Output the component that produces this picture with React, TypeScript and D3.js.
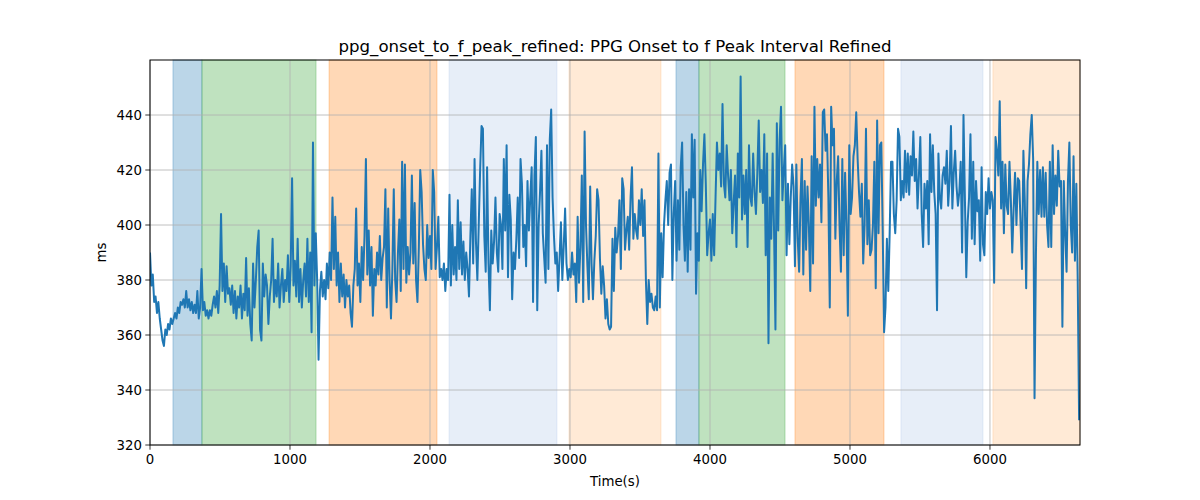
import React from 'react';
import * as d3 from 'd3';

const SAMPLE_STEP = 9.95;

const seg1 = [390, 378, 382, 372, 374, 368, 372, 366, 362, 358, 356, 362, 360, 364, 362, 366, 364, 366, 368, 366, 370, 368, 372, 371, 373, 370, 376, 370, 373, 369, 372, 368, 371, 368, 376, 366, 370, 384, 369, 372, 367, 369, 366, 369, 367, 371, 374, 370, 376, 368, 378, 404, 376, 386, 372, 385, 375, 377, 371, 378, 368, 376, 366, 374, 370, 378, 366, 375, 369, 388, 367, 377, 364, 358, 386, 370, 380, 392, 398, 362, 358, 386, 374, 382];
const seg2 = [378, 364, 374, 380, 395, 372, 380, 374, 386, 370, 378, 384, 372, 380, 376, 389, 372, 385, 417, 378, 387, 374, 395, 372, 384, 370, 380, 386, 374, 395, 372, 390, 361, 430, 378, 397, 380, 351, 376, 383, 374, 380, 373, 386, 377, 390, 380, 410, 384, 403, 378, 390, 372, 386, 374, 382, 370, 380, 374, 378, 368, 363, 378, 384, 406, 378, 386, 372, 392, 380, 396, 424, 382, 398, 378, 392, 367, 384, 378, 390, 382, 396, 380, 388];
const seg3 = [392, 413, 370, 406, 380, 366, 384, 413, 380, 372, 390, 402, 376, 423, 384, 422, 379, 392, 382, 390, 418, 386, 408, 380, 372, 392, 420, 412, 393, 384, 380, 400, 388, 396, 384, 420, 412, 384, 392, 403, 381, 384, 380, 386, 376, 384, 380, 411, 378, 400, 382, 392, 380, 409, 384, 401, 382, 394, 380, 390, 384, 374, 396, 413, 386, 424, 394, 380, 400, 420, 436, 435, 396, 383, 421, 386, 369, 398, 386, 394, 410, 390, 383, 404];
const seg4 = [400, 384, 424, 398, 429, 381, 411, 402, 373, 390, 384, 395, 410, 388, 424, 415, 392, 400, 385, 416, 398, 410, 421, 372, 418, 432, 369, 400, 412, 427, 397, 388, 379, 429, 384, 431, 442, 410, 396, 386, 390, 376, 388, 401, 380, 392, 406, 386, 380, 384, 381, 390, 382, 386, 372, 403, 379, 392, 418, 372, 434, 400, 385, 373, 414, 386, 373, 387, 396, 413, 409, 388, 375, 385, 378, 366, 373, 364, 362, 363, 395, 376, 399, 390];
const seg5 = [396, 409, 384, 417, 413, 391, 398, 403, 391, 410, 421, 395, 404, 398, 395, 409, 400, 413, 396, 409, 380, 364, 380, 372, 375, 370, 369, 374, 369, 426, 370, 397, 381, 400, 409, 416, 400, 419, 422, 380, 404, 416, 387, 409, 391, 421, 430, 400, 387, 412, 383, 413, 391, 433, 410, 431, 375, 397, 387, 420, 405, 422, 433, 415, 389, 397, 402, 387, 404, 389, 410, 430, 420, 426, 414, 444, 415, 410, 429, 418, 409, 420, 397, 408];
const seg6 = [418, 392, 426, 410, 454, 402, 418, 404, 420, 392, 429, 410, 407, 426, 412, 404, 419, 438, 412, 420, 408, 433, 389, 426, 357, 410, 395, 426, 398, 362, 437, 398, 431, 443, 409, 420, 429, 389, 415, 393, 410, 422, 414, 385, 422, 395, 383, 410, 424, 382, 416, 391, 414, 400, 376, 425, 386, 443, 407, 424, 410, 422, 401, 441, 442, 427, 433, 410, 370, 443, 429, 435, 395, 416, 425, 400, 383, 424, 389, 419, 400, 367, 429, 404];
const seg7 = [410, 425, 429, 441, 424, 412, 403, 415, 386, 400, 435, 393, 409, 389, 391, 400, 423, 377, 438, 397, 429, 430, 398, 361, 370, 395, 376, 397, 423, 423, 404, 397, 409, 435, 432, 409, 416, 410, 427, 412, 426, 411, 425, 418, 434, 416, 424, 406, 418, 432, 404, 392, 415, 406, 416, 393, 433, 412, 429, 412, 404, 369, 426, 410, 406, 418, 421, 415, 427, 407, 416, 436, 406, 419, 427, 414, 407, 412, 423, 390, 440, 410, 381, 401];
const seg8 = [410, 433, 395, 423, 393, 416, 405, 409, 387, 421, 393, 389, 412, 404, 417, 406, 412, 409, 379, 432, 427, 418, 445, 406, 423, 397, 422, 407, 404, 423, 409, 390, 406, 419, 400, 417, 416, 400, 384, 427, 409, 377, 416, 422, 433, 440, 424, 337, 389, 423, 404, 420, 403, 421, 403, 419, 400, 392, 423, 392, 429, 404, 418, 407, 427, 414, 416, 363, 416, 397, 383, 416, 430, 400, 390, 425, 387, 415, 380, 329];

const intervalValues = [...seg1, ...seg2, ...seg3, ...seg4, ...seg5, ...seg6, ...seg7, ...seg8];

// shaded phases: [start, end] in seconds
const phaseStarts = [164, 371, 1279, 2136, 2993, 3757, 3921, 4607, 5364, 6021];
const phaseEnds = [371, 1186, 2050, 2907, 3650, 3921, 4536, 5243, 5950, 6643];
const phaseColors = ['#1f77b4', '#2ca02c', '#ff7f0e', '#aec7e8', '#ffbb78', '#1f77b4', '#2ca02c', '#ff7f0e', '#aec7e8', '#ffbb78'];

const xTickValues = [0, 1000, 2000, 3000, 4000, 5000, 6000];
const yTickValues = [320, 340, 360, 380, 400, 420, 440];

const X_MAX = 6643;
const Y_MIN = 320;
const Y_MAX = 460;

const width = 1200;
const height = 500;
const margin = { top: 60, right: 120, bottom: 55, left: 150 };
const font = 'DejaVu Sans, sans-serif';

export default function App() {
  const x = d3.scaleLinear().domain([0, X_MAX]).range([margin.left, width - margin.right]);
  const y = d3.scaleLinear().domain([Y_MIN, Y_MAX]).range([height - margin.bottom, margin.top]);

  const points = intervalValues.map((v, i) => ({ t: i * SAMPLE_STEP, v }));
  const linePath =
    d3
      .line<{ t: number; v: number }>()
      .x((d) => x(d.t))
      .y((d) => y(d.v))(points) ?? '';

  const left = margin.left;
  const right = width - margin.right;
  const top = margin.top;
  const bottom = height - margin.bottom;

  return (
    <div style={{ position: 'absolute', left: 0, top: 0 }}>
      <svg width={width} height={height} style={{ display: 'block', background: '#fff' }}>
        <defs>
          <clipPath id="plot-clip">
            <rect x={left} y={top} width={right - left} height={bottom - top} />
          </clipPath>
        </defs>

        {/* phase spans */}
        {phaseStarts.map((s, i) => (
          <rect
            key={`span-${i}`}
            x={x(s)}
            y={top}
            width={x(phaseEnds[i]) - x(s)}
            height={bottom - top}
            fill={phaseColors[i]}
            fillOpacity={0.3}
            stroke={phaseColors[i]}
            strokeOpacity={0.3}
            strokeWidth={1}
          />
        ))}

        {/* grid */}
        {xTickValues.map((t) => (
          <line key={`gx-${t}`} x1={x(t)} x2={x(t)} y1={top} y2={bottom} stroke="#b0b0b0" strokeWidth={0.8} />
        ))}
        {yTickValues.map((t) => (
          <line key={`gy-${t}`} x1={left} x2={right} y1={y(t)} y2={y(t)} stroke="#b0b0b0" strokeWidth={0.8} />
        ))}

        <path d={linePath} fill="none" stroke="#1f77b4" strokeWidth={2} strokeLinejoin="round" clipPath="url(#plot-clip)" />

        {/* frame */}
        <rect x={left} y={top} width={right - left} height={bottom - top} fill="none" stroke="#000" strokeWidth={1} />

        {/* x ticks */}
        {xTickValues.map((t) => (
          <g key={`xt-${t}`}>
            <line x1={x(t)} x2={x(t)} y1={bottom} y2={bottom + 4.7} stroke="#000" strokeWidth={0.8} />
            <text x={x(t)} y={bottom + 19} fontSize={13.3} fontFamily={font} textAnchor="middle" fill="#000">
              {t}
            </text>
          </g>
        ))}

        {/* y ticks */}
        {yTickValues.map((t) => (
          <g key={`yt-${t}`}>
            <line x1={left - 4.7} x2={left} y1={y(t)} y2={y(t)} stroke="#000" strokeWidth={0.8} />
            <text x={left - 8} y={y(t) + 4.8} fontSize={13.3} fontFamily={font} textAnchor="end" fill="#000">
              {t}
            </text>
          </g>
        ))}

        <text x={(left + right) / 2} y={486} fontSize={13.3} fontFamily={font} textAnchor="middle" fill="#000">
          Time(s)
        </text>
        <text
          transform={`translate(106, ${(top + bottom) / 2}) rotate(-90)`}
          fontSize={13.3}
          fontFamily={font}
          textAnchor="middle"
          fill="#000"
        >
          ms
        </text>
        <text x={(left + right) / 2} y={52} fontSize={16.6} fontFamily={font} textAnchor="middle" fill="#000">
          ppg_onset_to_f_peak_refined: PPG Onset to f Peak Interval Refined
        </text>
      </svg>
    </div>
  );
}
